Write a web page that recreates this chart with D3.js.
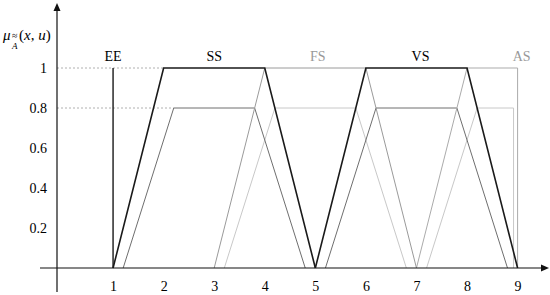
<!DOCTYPE html>
<html>
<head>
<meta charset="utf-8">
<script src="https://cdn.jsdelivr.net/npm/d3@7"></script>
<style>
  html, body { margin: 0; padding: 0; background: #fff; }
  svg { display: block; }
  svg text { font-family: 'Liberation Serif', 'Times New Roman', serif; }
</style>
</head>
<body>
<svg id="chart" width="550" height="295"></svg>
<script>
// ---- data ----
const xTicks = [1, 2, 3, 4, 5, 6, 7, 8, 9];
const yTicks = [0.2, 0.4, 0.6, 0.8, 1];
const setNames = ["EE", "SS", "FS", "VS", "AS"];
const labelAt = [1, 3, 5.05, 7.08, 9.08];
const upperMF = [[1, 1, 1, 1], [1, 2, 4, 5], [3, 4, 6, 7], [5, 6, 8, 9], [7, 8, 9, 9]];
const upperHeight = 1;
const lowerMF = [null, [1.2, 2.2, 3.8, 4.8], [3.2, 4.2, 5.8, 6.8], [5.2, 6.2, 7.8, 8.8], [7.2, 8.2, 8.92, 8.92]];
const lowerHeight = 0.8;

// ---- styles ----
const upperColor = ["#1a1a1a", "#1a1a1a", "#9a9a9a", "#1a1a1a", "#ababab"];
const upperWidth = [1.4, 1.6, 1, 1.6, 1];
const lowerColor = [null, "#6e6e6e", "#c8c8c8", "#6e6e6e", "#c8c8c8"];
const labelColor = ["#000", "#000", "#999", "#000", "#999"];

const svg = d3.select("#chart");
const x = d3.scaleLinear().domain([0, 9]).range([62.5, 517.6]);
const y = d3.scaleLinear().domain([0, 1]).range([268, 68]);
const y0 = y(0);
const axisX = 57;

// dotted guides
svg.append("line").attr("x1", axisX).attr("x2", x(upperMF[1][1]))
  .attr("y1", y(upperHeight)).attr("y2", y(upperHeight))
  .attr("stroke", "#b0b0b0").attr("stroke-width", 1).attr("stroke-dasharray", "2,2");
svg.append("line").attr("x1", axisX).attr("x2", x(lowerMF[1][1]))
  .attr("y1", y(lowerHeight)).attr("y2", y(lowerHeight))
  .attr("stroke", "#b0b0b0").attr("stroke-width", 1).attr("stroke-dasharray", "2,2");

const line = d3.line().x(d => x(d[0])).y(d => y(d[1]));
function trap(p, h) { return [[p[0], 0], [p[1], h], [p[2], h], [p[3], 0]]; }

// draw order: light first, dark last
const order = [4, 2, 3, 1, 0];
order.forEach(i => {
  if (lowerMF[i]) {
    svg.append("path").attr("d", line(trap(lowerMF[i], lowerHeight)))
      .attr("fill", "none").attr("stroke", lowerColor[i]).attr("stroke-width", 1);
  }
});
order.forEach(i => {
  svg.append("path").attr("d", line(trap(upperMF[i], upperHeight)))
    .attr("fill", "none").attr("stroke", upperColor[i]).attr("stroke-width", upperWidth[i]);
});

// axes
svg.append("line").attr("x1", 40).attr("x2", 543).attr("y1", y0).attr("y2", y0)
  .attr("stroke", "#111").attr("stroke-width", 1.2);
svg.append("path").attr("d", `M549,${y0} L541,${y0 - 3.5} L541,${y0 + 3.5} Z`).attr("fill", "#111");
svg.append("line").attr("x1", axisX).attr("x2", axisX).attr("y1", 292).attr("y2", 10)
  .attr("stroke", "#111").attr("stroke-width", 1.2);
svg.append("path").attr("d", `M${axisX},3 L${axisX - 3.5},11 L${axisX + 3.5},11 Z`).attr("fill", "#111");

const xAxis = d3.axisBottom(x).tickValues(xTicks).tickSize(0).tickPadding(0).tickFormat(d3.format("d"));
const gx = svg.append("g").attr("transform", `translate(0,${y0 + 13})`).call(xAxis);
gx.select(".domain").remove();
gx.selectAll("text").attr("font-size", 14).attr("fill", "#000");

const yAxis = d3.axisLeft(y).tickValues(yTicks).tickSize(0).tickPadding(0).tickFormat(d => d === 1 ? "1" : d3.format(".1f")(d));
const gy = svg.append("g").attr("transform", `translate(47,0)`).call(yAxis);
gy.select(".domain").remove();
gy.selectAll("text").attr("font-size", 14).attr("fill", "#000");
gx.attr("font-family", null);
gy.attr("font-family", null);

// set labels
svg.selectAll("text.setlabel").data(setNames).enter().append("text")
  .attr("class", "setlabel")
  .attr("x", (d, i) => x(labelAt[i])).attr("y", 61)
  .attr("text-anchor", "middle").attr("font-size", 14)
  .attr("fill", (d, i) => labelColor[i])
  .text(d => d);

// y axis title: mu_{A~~}(x,u)
const t = svg.append("g").attr("fill", "#000");
t.append("text").attr("x", 3).attr("y", 40).attr("font-size", 15).attr("font-style", "italic").text("μ");
t.append("text").attr("x", 12).attr("y", 48.5).attr("font-size", 9).attr("font-style", "italic").text("A");
t.append("text").attr("x", 12).attr("y", 38.5).attr("font-size", 10).text("≈");
t.append("text").attr("x", 19).attr("y", 40).attr("font-size", 15).html('(<tspan font-style="italic">x</tspan>, <tspan font-style="italic">u</tspan>)');
</script>
</body>
</html>
